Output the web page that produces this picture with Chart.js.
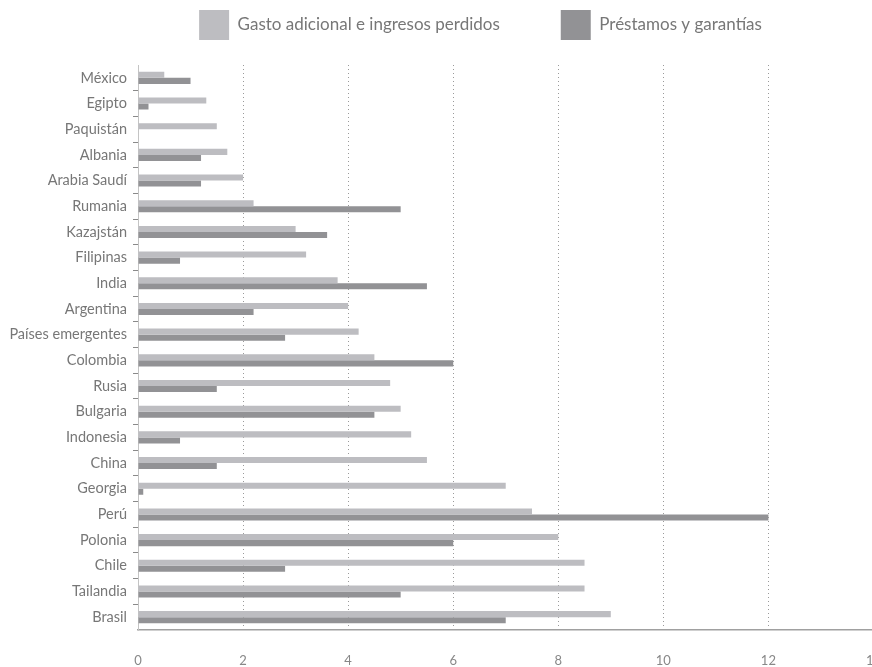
<!DOCTYPE html>
<html>
<head>
<meta charset="utf-8">
<script src="https://cdn.jsdelivr.net/npm/chart.js@4/dist/chart.umd.min.js"></script>
<style>
  html, body { margin: 0; padding: 0; background: #fff; overflow: hidden; }
  #wrap { position: relative; width: 881px; height: 667px; }
</style>
</head>
<body>
<div id="wrap"><canvas id="c"></canvas></div>
<script>
const categories = ["México","Egipto","Paquistán","Albania","Arabia Saudí","Rumania","Kazajstán","Filipinas","India","Argentina","Países emergentes","Colombia","Rusia","Bulgaria","Indonesia","China","Georgia","Perú","Polonia","Chile","Tailandia","Brasil"];
const gastoLabel = "Gasto adicional e ingresos perdidos";
const prestamosLabel = "Préstamos y garantías";
const gasto =     [0.5, 1.3, 1.5, 1.7, 2.0, 2.2, 3.0, 3.2, 3.8, 4.0, 4.2, 4.5, 4.8, 5.0, 5.2, 5.5, 7.0, 7.5, 8.0, 8.5, 8.5, 9.0];
const prestamos = [1.0, 0.2, 0.0, 1.2, 1.2, 5.0, 3.6, 0.8, 5.5, 2.2, 2.8, 6.0, 1.5, 4.5, 0.8, 1.5, 0.1, 12.0, 6.0, 2.8, 5.0, 7.0];
const xTicks = [0, 2, 4, 6, 8, 10, 12, 14];

const FONT = "Lato, 'Open Sans', sans-serif";

const legendTweak = {
  id: 'legendTweak',
  beforeLayout(chart) {
    const lg = chart.legend;
    if (lg && !lg._spacerPatched) {
      const orig = lg.fit;
      lg.fit = function () { orig.call(this); this.height += 15; };
      lg._spacerPatched = true;
    }
  },
  afterLayout(chart) {
    const lg = chart.legend;
    if (lg) { lg.left += 40; lg.right += 40; }
  }
};

new Chart(document.getElementById('c'), {
  type: 'bar',
  data: {
    labels: categories,
    datasets: [
      { label: gastoLabel, data: gasto, backgroundColor: '#bdbdc1', borderWidth: 0,
        barPercentage: 1, categoryPercentage: 0.47 },
      { label: prestamosLabel, data: prestamos, backgroundColor: '#929295', borderWidth: 0,
        barPercentage: 1, categoryPercentage: 0.47 }
    ]
  },
  plugins: [legendTweak],
  options: {
    indexAxis: 'y',
    responsive: true,
    maintainAspectRatio: false,
    animation: false,
    layout: { padding: 0 },
    plugins: {
      tooltip: { enabled: false },
      legend: {
        position: 'top',
        labels: {
          boxWidth: 30, boxHeight: 30, padding: 10,
          color: '#777', font: { family: FONT, size: 17 },
          generateLabels(chart) {
            const items = Chart.defaults.plugins.legend.labels.generateLabels(chart);
            items.forEach(it => { it.lineWidth = 0; });
            items[0].text = items[0].text + '\u2003\u2003\u2003\u2003';
            return items;
          }
        }
      }
    },
    scales: {
      x: {
        min: 0, max: 14,
        afterBuildTicks(scale) { scale.ticks = xTicks.map(v => ({ value: v })); },
        ticks: { color: '#888', font: { family: FONT, size: 13 }, padding: 0, maxRotation: 0 },
        grid: {
          drawTicks: true,
          tickLength: 23,
          tickColor: 'rgba(0,0,0,0)',
          color: (ctx) => (ctx.tick && (ctx.tick.value === 0 || ctx.tick.value === 14)) ? 'rgba(0,0,0,0)' : '#9a9a9a',
          lineWidth: 1
        },
        border: { display: true, color: '#a0a0a0', width: 1.5, dash: [1, 3] },
        afterFit(scale) { scale.height = 37; }
      },
      y: {
        ticks: { color: '#777', font: { family: FONT, size: 14.5 }, padding: 6, autoSkip: false },
        grid: {
          drawOnChartArea: false,
          drawTicks: true,
          tickLength: 5,
          tickColor: (ctx) => (ctx.index === undefined || ctx.index === 0) ? 'rgba(0,0,0,0)' : '#8a8a8a',
          lineWidth: 1
        },
        border: { display: true, color: '#c4c4c4', width: 1 },
        afterFit(scale) { scale.width = 138; }
      }
    }
  }
});
</script>
</body>
</html>
